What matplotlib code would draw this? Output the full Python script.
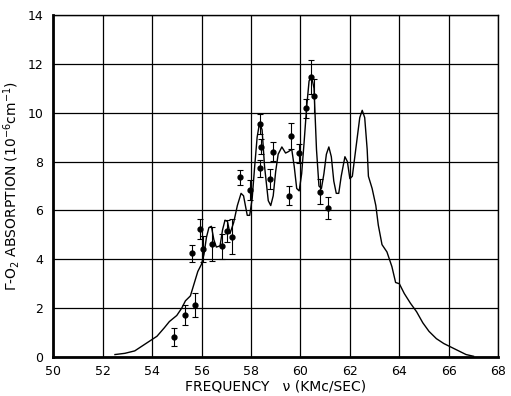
import numpy as np
import matplotlib
matplotlib.use('Agg')
import matplotlib.pyplot as plt

# theoretical curve
curve_x = [52.5, 52.9, 53.3, 53.6, 53.9, 54.2, 54.5, 54.7, 55.0, 55.2, 55.35, 55.55,
           55.7, 55.85, 56.0, 56.1, 56.2, 56.3, 56.4, 56.5, 56.6, 56.75, 56.85, 56.95,
           57.05, 57.15, 57.3, 57.45, 57.6, 57.7, 57.85, 57.95, 58.05, 58.15, 58.25,
           58.35, 58.45, 58.55, 58.7, 58.8, 58.9, 59.0, 59.1, 59.25, 59.4, 59.5, 59.65,
           59.75, 59.85, 59.95, 60.05, 60.15, 60.25, 60.35, 60.45, 60.55, 60.65, 60.75,
           60.85, 60.95, 61.05, 61.15, 61.25, 61.35, 61.45, 61.55, 61.65, 61.8, 61.9,
           62.0, 62.1, 62.25, 62.4, 62.5, 62.6, 62.7, 62.75, 62.9, 63.05, 63.15, 63.3,
           63.5, 63.7, 63.85, 64.0, 64.2, 64.45, 64.7, 64.95, 65.2, 65.5, 65.8, 66.1,
           66.4, 66.7, 67.0]
curve_y = [0.1, 0.15, 0.25, 0.45, 0.65, 0.85, 1.2, 1.45, 1.7, 2.0, 2.3, 2.5,
           3.0, 3.5, 3.8, 4.2, 4.9, 5.3, 5.35, 4.8, 4.5, 4.55, 5.2, 5.6,
           5.55, 5.05, 5.5, 6.2, 6.7, 6.6, 5.8, 5.8, 6.5, 7.8, 9.0,
           9.6, 9.3, 7.8, 6.4, 6.2, 6.6, 7.6, 8.3, 8.6, 8.35, 8.4, 8.5,
           7.8, 6.9, 6.8, 7.5, 8.8, 10.2, 11.3, 11.5, 11.0, 8.5, 7.0,
           6.9, 7.5, 8.3, 8.6, 8.2, 7.2, 6.7, 6.7, 7.4, 8.2, 8.0,
           7.3, 7.4, 8.6, 9.8, 10.1, 9.8, 8.5, 7.4, 6.9, 6.2, 5.4, 4.6,
           4.3, 3.7, 3.05, 3.0, 2.6, 2.2, 1.85, 1.4, 1.05, 0.75, 0.55, 0.4,
           0.25, 0.1, 0.03]

# measured points
meas_x = [54.89, 55.34, 55.72, 55.62, 55.92, 56.07, 56.43, 56.84, 57.05, 57.23,
          57.55, 57.95, 58.35, 58.36, 58.4, 58.79, 58.9, 59.52, 59.61, 59.95,
          60.22, 60.41, 60.56, 60.81, 61.12]
meas_y = [0.82, 1.73, 2.13, 4.25, 5.23, 4.42, 4.63, 4.53, 5.14, 4.93,
          7.36, 6.84, 7.73, 9.54, 8.61, 7.29, 8.41, 6.61, 9.05, 8.34,
          10.18, 11.48, 10.69, 6.77, 6.09]
meas_err = [0.37, 0.4, 0.5, 0.35, 0.4, 0.55, 0.7, 0.5, 0.45, 0.7,
            0.3, 0.4, 0.35, 0.4, 0.3, 0.4, 0.4, 0.4, 0.55, 0.4,
            0.4, 0.7, 0.7, 0.5, 0.45]

xticks = np.arange(50, 69, 2)
yticks = np.arange(0, 15, 2)

fig = plt.figure(figsize=(5.11, 3.96), dpi=100)
ax = fig.add_axes([0.104, 0.0985, 0.871, 0.8635])

ax.plot(curve_x, curve_y, color='black', lw=1.0)
ax.errorbar(meas_x, meas_y, yerr=meas_err, fmt='o', color='black', ms=3.5,
            elinewidth=0.8, capsize=2, capthick=0.8)

ax.set_xlim(50, 68)
ax.set_ylim(0, 14)
ax.set_xticks(xticks)
ax.set_yticks(yticks)
ax.grid(True, color='black', lw=0.9)
ax.tick_params(axis='x', length=0, labelsize=9, pad=6)
ax.tick_params(axis='y', length=0, labelsize=9, pad=7)
for side in ['left', 'bottom']:
    ax.spines[side].set_linewidth(2)
for side in ['right', 'top']:
    ax.spines[side].set_linewidth(1)

ax.set_xlabel('FREQUENCY   \u03bd (KMc/SEC)', fontsize=10, labelpad=1)
ax.set_ylabel('\u0393-O$_2$ ABSORPTION (10$^{-6}$cm$^{-1}$)', fontsize=10, labelpad=4)

fig.savefig('out.png', dpi=100)
